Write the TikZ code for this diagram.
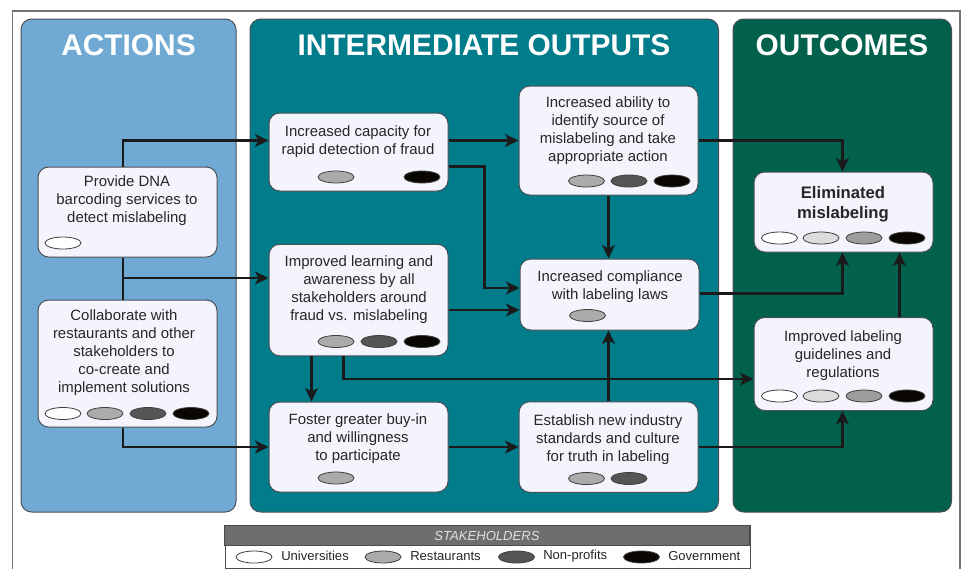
\documentclass[tikz,border=0pt]{standalone}
\usepackage{fontspec}
\setmainfont{Liberation Sans}
\usetikzlibrary{arrows.meta,calc}
\definecolor{cAct}{HTML}{70AAD4}
\definecolor{cInt}{HTML}{007C8A}
\definecolor{cOut}{HTML}{02614D}
\definecolor{cBox}{HTML}{F4F5FC}
\definecolor{cEdge}{HTML}{4A4F55}
\definecolor{cLine}{HTML}{1A1A1A}
\definecolor{gW}{HTML}{FFFFFF}
\definecolor{gL}{HTML}{DCDCDC}
\definecolor{gM}{HTML}{ABABAB}
\definecolor{gN}{HTML}{9C9C9C}
\definecolor{gD}{HTML}{555555}
\definecolor{gK}{HTML}{0A0602}
\tikzset{
  x=0.75pt,y=-0.75pt,
  panel/.style={draw=cEdge,line width=0.75pt,rounded corners=8pt},
  boxed/.style={draw=cEdge,fill=cBox,line width=0.75pt,rounded corners=8pt},
  head/.style={text=white,font=\fontsize{22.4}{26}\selectfont\bfseries,inner sep=0pt},
  txt/.style={text=black!85,font=\fontsize{11.2}{13.5}\selectfont,align=center,inner sep=0pt},
  txtb/.style={text=black!85,font=\fontsize{12.5}{15}\selectfont\bfseries,align=center,inner sep=0pt},
  legt/.style={text=black!85,font=\fontsize{9.8}{12}\selectfont,anchor=west,inner sep=0pt},
  oval/.style={line width=0.6pt,draw=black!75,fill=#1},
  arr/.style={draw=cLine,line width=1.9pt,-{Stealth[length=10pt,width=9.5pt,inset=2.5pt]}},
  plain/.style={draw=cLine,line width=1.9pt},
}
\newcommand{\ov}[3]{\draw[oval=#3] (#1,#2) ellipse [x radius=18,y radius=6];}
\begin{document}
\begin{tikzpicture}
\useasboundingbox (0,0) rectangle (964,569);
\fill[white] (0,0) rectangle (964,569);
% outer frame
\draw[draw=black!55,line width=0.8pt] (12.5,569) -- (12.5,11) -- (960,11) -- (960,569);
% panels
\path[panel,fill=cAct] (21,19) rectangle (236,512);
\path[panel,fill=cInt] (250,19) rectangle (718.5,512);
\path[panel,fill=cOut] (733,19) rectangle (951.5,512);
\node[head] (hA) at (128.5,45) {ACTIONS};
\node[head] (hI) at (484,45) {INTERMEDIATE OUTPUTS};
\node[head] (hO) at (842,45) {OUTCOMES};
% boxes
\node[boxed,minimum width=179*0.75pt,minimum height=90*0.75pt,inner sep=0pt] (prov) at (127.5,212) {};
\node[boxed,minimum width=179*0.75pt,minimum height=127*0.75pt,inner sep=0pt] (coll) at (127.5,363.5) {};
\node[boxed,minimum width=179*0.75pt,minimum height=78*0.75pt,inner sep=0pt] (cap) at (358.5,152) {};
\node[boxed,minimum width=179*0.75pt,minimum height=111.5*0.75pt,inner sep=0pt] (learn) at (358.5,300) {};
\node[boxed,minimum width=179*0.75pt,minimum height=90*0.75pt,inner sep=0pt] (fost) at (358.5,447) {};
\node[boxed,minimum width=179*0.75pt,minimum height=109*0.75pt,inner sep=0pt] (abil) at (608.5,140.5) {};
\node[boxed,minimum width=179*0.75pt,minimum height=71*0.75pt,inner sep=0pt] (comp) at (609.5,294.5) {};
\node[boxed,minimum width=179*0.75pt,minimum height=90.5*0.75pt,inner sep=0pt] (esta) at (608.5,447) {};
\node[boxed,minimum width=179*0.75pt,minimum height=80*0.75pt,inner sep=0pt] (elim) at (843.5,212) {};
\node[boxed,minimum width=179*0.75pt,minimum height=93*0.75pt,inner sep=0pt] (regs) at (843.5,364) {};
% texts
\node[txt] (t1) at (127,201) {Provide DNA\\barcoding services to\\detect mislabeling};
\node[txt] (t2) at (124,353) {Collaborate with\\restaurants and other\\stakeholders to\\co-create and\\implement solutions};
\node[txt] (t3) at (358,142) {Increased capacity for\\rapid detection of fraud};
\node[txt] (t4) at (359,290) {Improved learning and\\awareness by all\\stakeholders around\\fraud vs. mislabeling};
\node[txt] (t5) at (358,439) {Foster greater buy-in\\and willingness\\to participate};
\node[txt] (t6) at (608,130.5) {Increased ability to\\identify source of\\mislabeling and take\\appropriate action};
\node[txt] (t7) at (610,286.5) {Increased compliance\\with labeling laws};
\node[txt] (t8) at (608,440) {Establish new industry\\standards and culture\\for truth in labeling};
\node[txtb] (t9) at (843,204) {Eliminated\\mislabeling};
\node[txt] (t10) at (843,356) {Improved labeling\\guidelines and\\regulations};
% stakeholder ovals
\ov{63}{243}{gW}
\ov{63}{413.5}{gW}\ov{105}{413.5}{gM}\ov{148}{413.5}{gD}\ov{191}{413.5}{gK}
\ov{336}{177}{gM}\ov{422}{177}{gK}
\ov{336}{341.5}{gM}\ov{379}{341.5}{gD}\ov{422}{341.5}{gK}
\ov{336}{478}{gM}
\ov{586.5}{181}{gM}\ov{629}{181}{gD}\ov{672}{181}{gK}
\ov{587.5}{315.5}{gM}
\ov{586.5}{478.5}{gM}\ov{629}{478.5}{gD}
\ov{779.5}{238}{gW}\ov{821}{238}{gL}\ov{864}{238}{gN}\ov{907}{238}{gK}
\ov{779.5}{396}{gW}\ov{821}{396}{gL}\ov{864}{396}{gN}\ov{907}{396}{gK}
% routing guides
\coordinate (vA) at (123,0);
\coordinate (vB) at (311.5,0);
\coordinate (vC) at (343.5,0);
\coordinate (vD) at (484.5,0);
\coordinate (vE) at (608.5,0);
\coordinate (vF) at (842.5,0);
\coordinate (vG) at (899.5,0);
\coordinate (hA1) at (0,140.5);
\coordinate (hB1) at (0,278);
\coordinate (hC1) at (0,447);
\coordinate (hD1) at (0,166.5);
\coordinate (hE1) at (0,288);
\coordinate (hF1) at (0,310);
\coordinate (hG1) at (0,293.5);
\coordinate (hH1) at (0,379);
% connectors
\draw[arr] (prov.north -| vA) |- (cap.west |- hA1);
\draw[plain] (prov.south -| vA) -- (coll.north -| vA);
\draw[arr] (prov.south -| vA) |- (learn.west |- hB1);
\draw[arr] (coll.south -| vA) |- (fost.west |- hC1);
\draw[arr] (cap.east |- hA1) -- (abil.west |- hA1);
\draw[arr] (cap.east |- hD1) -| (vD |- hE1) -- (comp.west |- hE1);
\draw[arr] (learn.east |- hF1) -- (comp.west |- hF1);
\draw[arr] (learn.south -| vB) -- (fost.north -| vB);
\draw[arr] (learn.south -| vC) |- (regs.west |- hH1);
\draw[arr] (fost.east |- hC1) -- (esta.west |- hC1);
\draw[arr] (abil.south -| vE) -- (comp.north -| vE);
\draw[arr] (esta.north -| vE) -- (comp.south -| vE);
\draw[arr] (abil.east |- hA1) -| (elim.north -| vF);
\draw[arr] (comp.east |- hG1) -| (elim.south -| vF);
\draw[arr] (regs.north -| vG) -- (elim.south -| vG);
\draw[arr] (esta.east |- hC1) -| (regs.south -| vF);
% legend
\node[draw=black!70,fill=white,line width=0.7pt,minimum width=525*0.75pt,minimum height=42.5*0.75pt,inner sep=0pt] (lgB) at (487.5,547) {};
\node[draw=black!70,fill=black!57,line width=0.7pt,minimum width=525*0.75pt,minimum height=19.5*0.75pt,inner sep=0pt,text=black!12,font=\fontsize{9.8}{12}\selectfont\itshape] (lgH) at (487,535.5) {STAKEHOLDERS};
\ov{254}{557}{gW}\ov{383}{557}{gM}\ov{516.5}{557}{gD}\ov{641.5}{557}{gK}
\node[legt] (l1) at (281,556) {Universities};
\node[legt] (l2) at (410,556) {Restaurants};
\node[legt] (l3) at (543,556) {Non-profits};
\node[legt] (l4) at (668,556) {Government};
\end{tikzpicture}
\end{document}
